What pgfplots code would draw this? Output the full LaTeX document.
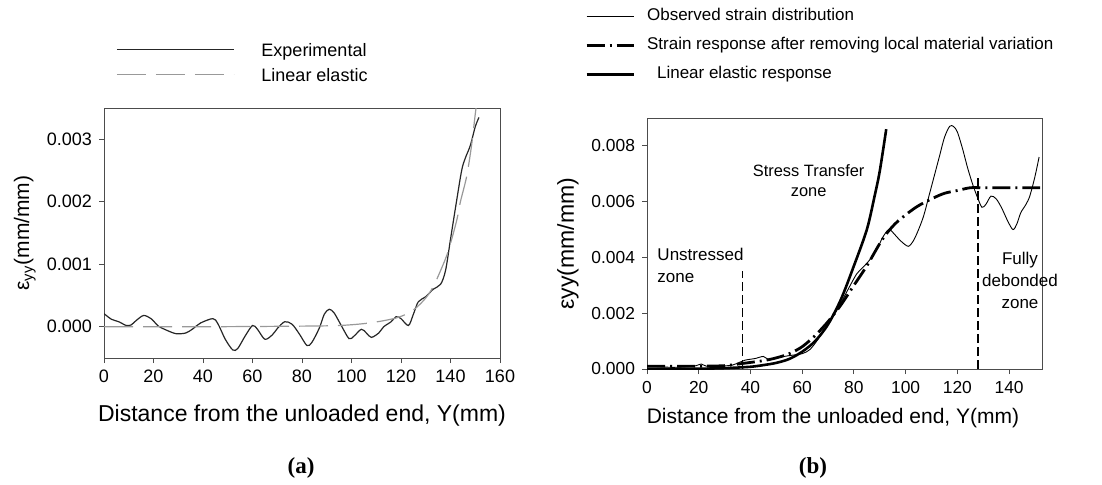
\documentclass[border=0pt]{standalone}
\usepackage{pgfplots}
\pgfplotsset{compat=1.18}
\usepackage{fontspec}
\setmainfont{Liberation Sans}
\newfontfamily\capfont{Liberation Serif}

\begin{document}
\begin{tikzpicture}
\useasboundingbox (0,0) rectangle (551pt,242pt);
\pgfplotsset{
  myaxis/.style={
    scale only axis,
    axis line style={draw=black!70, line width=0.5pt},
    tick style={draw=black!70, line width=0.5pt},
    tick align=outside,
    major tick length=2.5pt,
    xtick pos=left, ytick pos=left,
    /pgf/number format/assume math mode=true,
    scaled y ticks=false,
    y tick label style={/pgf/number format/fixed, /pgf/number format/fixed zerofill, /pgf/number format/precision=3},
    clip=true,
  }
}
% ---------------- (a) ----------------
\begin{axis}[myaxis,
  at={(52pt,63pt)}, anchor=south west,
  width=198pt, height=125pt,
  xmin=0, xmax=160, ymin=-0.0005, ymax=0.0035,
  xtick={0,20,...,160}, ytick={0,0.001,0.002,0.003},
  tick label style={font=\fontsize{9}{10}\selectfont},
  xlabel={Distance from the unloaded end, Y(mm)},
  xlabel style={font=\fontsize{11.5}{13}\selectfont, at={(axis description cs:0.5,-0.232)}, anchor=center},
  ylabel={ε\textsubscript{yy}(mm/mm)},
  ylabel style={font=\fontsize{10.5}{12}\selectfont, at={(axis description cs:-0.2,0.5)}, anchor=center},
  legend style={at={(axis description cs:0.03,1.26)}, anchor=north west, draw=none, fill=none,
    font=\fontsize{9}{11}\selectfont, inner sep=0pt, row sep=0pt,
    nodes={inner sep=0pt, text height=6.5pt, text depth=6pt}},
  legend cell align=left,
  legend image code/.code={\draw[#1] (0pt,3.2pt) -- (58.5pt,3.2pt); \path (72pt,0pt);},
]
\addplot[black!85, line width=0.6pt, smooth] coordinates {
(0,0.00021)(3,0.00012)(6,0.00008)(9,0.00002)(11,0.00003)(13,0.0001)(16,0.00018)(19,0.00013)(22,0.00001)(25,-0.00005)(29,-0.00011)(33,-0.0001)(36,-0.00003)(39,0.00006)(44,0.00013)(46,0.00005)(49,-0.0002)(52,-0.00037)(54,-0.00035)(57,-0.00015)(60,0.00002)(62,-0.00004)(65,-0.0002)(68,-0.00013)(70,-0.00003)(73,0.00008)(76,0.00004)(79,-0.00012)(82,-0.0003)(84,-0.00025)(87,-0.00002)(89,0.0002)(91,0.00028)(93,0.00022)(96,0.00001)(99,-0.00019)(101,-0.00015)(104,-0.00004)(106,-0.0001)(108,-0.00017)(111,-0.0001)(113,0.0)(116,0.00008)(118,0.00016)(120,0.00013)(123,0.00002)(125,0.0002)(127,0.0004)(130,0.00048)(133,0.0006)(136,0.00068)(138,0.0009)(140,0.0014)(142,0.0019)(144.5,0.0025)(146,0.0027)(148,0.0029)(150,0.0032)(151.5,0.00335)
};
\addlegendentry{Experimental}
\addplot[black!40, line width=0.6pt, dash pattern=on 14.5pt off 5pt, smooth] coordinates {
(0,0)(40,0)(80,0.00001)(95,0.00002)(105,0.00005)(112,0.00009)(118,0.00014)(122,0.0002)(126,0.0003)(130,0.00046)(133,0.00064)(136,0.0009)(139,0.0012)(142.5,0.0017)(144,0.002)(146.5,0.0024)(148.5,0.0029)(150,0.0034)(151,0.0037)
};
\addlegendentry{Linear elastic}
\end{axis}
% ---------------- (b) ----------------
\begin{axis}[myaxis,
  at={(323.5pt,57.5pt)}, anchor=south west,
  width=197.85pt, height=125.5pt,
  xmin=0, xmax=153, ymin=0, ymax=0.009,
  xtick={0,20,...,140}, ytick={0,0.002,0.004,0.006,0.008},
  tick label style={font=\fontsize{8.7}{10}\selectfont},
  xlabel={Distance from the unloaded end, Y(mm)},
  xlabel style={font=\fontsize{10.5}{12}\selectfont, at={(axis description cs:0.47,-0.195)}, anchor=center},
  ylabel={ε{}yy(mm/mm)},
  ylabel style={font=\fontsize{11.5}{12}\selectfont, at={(axis description cs:-0.2,0.5)}, anchor=center},
  legend style={at={(axis description cs:-0.157,1.441)}, anchor=north west, draw=none, fill=none,
    font=\fontsize{8.5}{10}\selectfont, inner sep=0pt, row sep=0pt,
    nodes={inner sep=0pt, text height=6.5pt, text depth=8pt}},
  legend cell align=left,
  legend image code/.code={\draw[#1] (0pt,3pt) -- (23.5pt,3pt); \path (29.5pt,0pt);},
]
\addplot[black, line width=0.45pt, smooth] coordinates {
(0,0.00012)(5,0.00008)(10,0.00006)(15,0.00008)(19,0.00012)(21,0.00018)(23,0.0001)(28,0.0001)(33,0.00014)(36,0.00025)(38,0.00032)(42,0.00038)(45,0.00045)(47,0.00034)(50,0.0004)(55,0.00048)(60,0.00055)(63,0.0007)(66,0.00105)(70,0.0016)(74,0.0022)(78,0.0029)(81,0.0034)(83,0.0036)(86,0.0039)(89,0.0043)(91,0.0047)(93.5,0.005)(96,0.0048)(98,0.0046)(101,0.0044)(103,0.0046)(105,0.005)(107,0.0055)(109,0.0062)(111,0.0069)(113,0.0076)(115,0.0083)(117,0.0087)(118.5,0.0087)(120,0.0085)(122,0.0079)(124,0.0072)(126,0.0066)(128,0.0061)(129.5,0.0058)(131,0.0059)(133,0.0062)(135,0.0061)(137,0.0058)(139.5,0.0053)(141.5,0.0050)(143,0.0052)(144.5,0.0056)(146.5,0.0059)(148,0.0062)(150,0.0069)(151.6,0.0076)
};
\addlegendentry{Observed strain distribution}
\addplot[black, line width=1.4pt, dash pattern=on 9pt off 2.5pt on 1pt off 2.5pt, smooth] coordinates {
(0,0.0001)(10,0.0001)(20,0.0001)(30,0.00012)(37,0.0002)(45,0.0003)(50,0.0004)(55,0.00055)(60,0.0008)(65,0.0012)(70,0.0017)(75,0.0023)(80,0.003)(85,0.0037)(90,0.0045)(93,0.0049)(97,0.0053)(104,0.0058)(110,0.0061)(115,0.0063)(120,0.0064)(125,0.0065)(130,0.0065)(140,0.0065)(152,0.0065)
};
\addlegendentry{Strain response after removing local material variation}
\addplot[black, line width=1.3pt, smooth] coordinates {
(0,0)(10,0)(20,0.00001)(30,0.00003)(40,0.00008)(45,0.00014)(50,0.00022)(55,0.00036)(60,0.00062)(65,0.001)(70,0.0016)(75,0.0025)(80,0.0037)(85,0.005)(88,0.0062)(90,0.0071)(92.5,0.0086)
};
\addlegendentry{\hspace{5pt}Linear elastic response}
\addplot[black, line width=0.7pt, dash pattern=on 4.5pt off 2pt, forget plot] coordinates {(37,0) (37,0.0035)};
\addplot[black, line width=0.7pt, dash pattern=on 4.5pt off 2pt, forget plot] coordinates {(128,0) (128,0.0069)};
\node[font=\fontsize{8.2}{10}\selectfont, align=center] at (axis cs:62.5,0.00674) {Stress Transfer\\zone};
\node[font=\fontsize{8.5}{11}\selectfont, align=left, anchor=north west, inner sep=0pt] at (axis cs:3.9,0.00434) {Unstressed\\zone};
\end{axis}
% labels that go past the right frame of (b)
\node[font=\fontsize{8.5}{11}\selectfont, align=center] at (510pt,102pt) {Fully\\debonded\\zone};
\node[font=\capfont\bfseries\fontsize{11.5}{13}\selectfont] at (150.5pt,8pt) {(a)};
\node[font=\capfont\bfseries\fontsize{11.5}{13}\selectfont] at (406.5pt,8pt) {(b)};
\end{tikzpicture}
\end{document}
